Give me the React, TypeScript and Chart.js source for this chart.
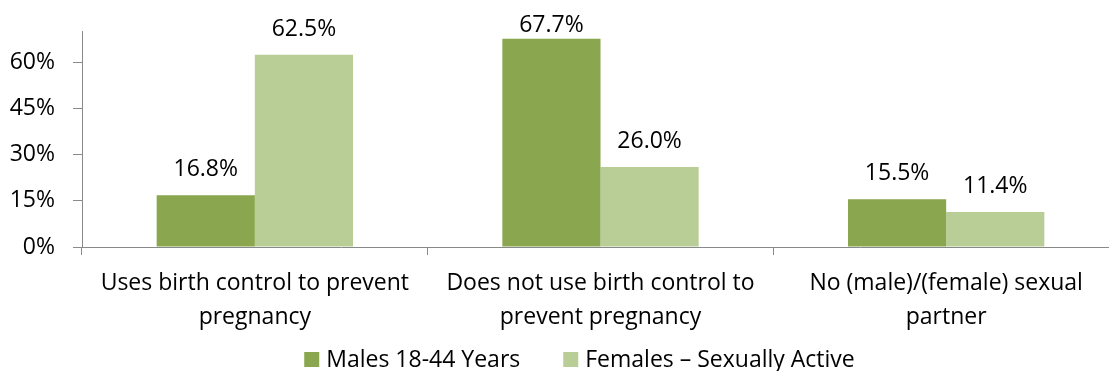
import React, { useEffect, useRef } from "react";
import { Chart, registerables } from "chart.js";

Chart.register(...registerables);

const categories: string[][] = [
  ["Uses birth control to prevent", "pregnancy"],
  ["Does not use birth control to", "prevent pregnancy"],
  ["No (male)/(female) sexual", "partner"],
];
const seriesNames = ["Males 18-44 Years", "Females \u2013 Sexually Active"];
const malesValues = [16.8, 67.7, 15.5];
const femalesValues = [62.5, 26.0, 11.4];
const yTicks = [0, 15, 30, 45, 60];

const FONT = "'Open Sans'";
const FS = 23;
const AXIS_COLOR = "#898989";
const COLORS = ["#8AA64E", "#B9CE97"];
const CANVAS_W = 1120;
const CANVAS_H = 371;

const valueLabels = {
  id: "valueLabels",
  afterDatasetsDraw(chart: any) {
    const ctx = chart.ctx;
    ctx.save();
    ctx.font = `${FS}px ${FONT}`;
    ctx.fillStyle = "#000";
    ctx.textAlign = "center";
    ctx.textBaseline = "alphabetic";
    chart.data.datasets.forEach((ds: any, i: number) => {
      const meta = chart.getDatasetMeta(i);
      meta.data.forEach((bar: any, j: number) => {
        const y = Math.max(bar.y - 19, 32);
        ctx.fillText(ds.data[j].toFixed(1) + "%", bar.x, y);
      });
    });
    ctx.restore();
  },
};

const bottomLegend = {
  id: "bottomLegend",
  afterDraw(chart: any) {
    const ctx = chart.ctx;
    ctx.save();
    ctx.font = `${FS}px ${FONT}`;
    ctx.textBaseline = "alphabetic";
    ctx.textAlign = "left";
    const box = 15;
    const gapText = 7;
    const gapItem = 43;
    const items = chart.data.datasets.map((ds: any) => ({
      label: ds.label,
      color: ds.backgroundColor,
      w: ctx.measureText(ds.label).width,
    }));
    const total = items.reduce((s: number, it: any) => s + box + gapText + it.w, 0) + gapItem * (items.length - 1);
    let x = 579.5 - total / 2;
    const boxTop = 352;
    const baseline = 367;
    items.forEach((it: any) => {
      ctx.fillStyle = it.color;
      ctx.fillRect(x, boxTop, box, box);
      x += box + gapText;
      ctx.fillStyle = "#000";
      ctx.fillText(it.label, x, baseline);
      x += it.w + gapItem;
    });
    ctx.restore();
  },
};

export default function App() {
  const ref = useRef<HTMLCanvasElement>(null);
  useEffect(() => {
    if (!ref.current) return;
    const chart = new Chart(ref.current, {
      type: "bar",
      data: {
        labels: categories,
        datasets: [
          {
            label: seriesNames[0],
            data: malesValues,
            backgroundColor: COLORS[0],
            borderWidth: 0,
            categoryPercentage: 0.568,
            barPercentage: 1,
          },
          {
            label: seriesNames[1],
            data: femalesValues,
            backgroundColor: COLORS[1],
            borderWidth: 0,
            categoryPercentage: 0.568,
            barPercentage: 1,
          },
        ],
      },
      options: {
        animation: false,
        responsive: false,
        devicePixelRatio: 1,
        layout: { padding: { top: 29, right: 1, left: 0, bottom: 25 } },
        plugins: {
          legend: { display: false },
          tooltip: { enabled: false },
        },
        scales: {
          x: {
            grid: {
              offset: true,
              drawOnChartArea: false,
              drawTicks: true,
              tickLength: 8,
              color: AXIS_COLOR,
            },
            border: { color: AXIS_COLOR, width: 1 },
            ticks: {
              font: { family: FONT, size: FS, lineHeight: 1.48 },
              color: "#000",
              padding: 11,
              maxRotation: 0,
              autoSkip: false,
            },
            afterFit(scale: any) {
              scale.height = 99;
            },
          },
          y: {
            min: 0,
            max: 70,
            grid: {
              drawOnChartArea: false,
              drawTicks: true,
              tickLength: 9,
              color: AXIS_COLOR,
            },
            border: { color: AXIS_COLOR, width: 1 },
            ticks: {
              stepSize: 15,
              font: { family: FONT, size: FS },
              color: "#000",
              padding: 18,
              callback: (v: any) => v + "%",
            },
            afterBuildTicks(scale: any) {
              scale.ticks = yTicks.map((v) => ({ value: v }));
            },
            afterFit(scale: any) {
              scale.width = 82;
            },
          },
        },
      },
      plugins: [valueLabels, bottomLegend],
    });
    return () => chart.destroy();
  }, []);
  return (
    <div
      style={{
        position: "fixed",
        left: 0,
        top: 0,
        width: 1109,
        height: CANVAS_H,
        overflow: "hidden",
        background: "#fff",
      }}
    >
      <canvas
        ref={ref}
        width={CANVAS_W}
        height={CANVAS_H}
        style={{ width: CANVAS_W, height: CANVAS_H, display: "block" }}
      />
    </div>
  );
}
